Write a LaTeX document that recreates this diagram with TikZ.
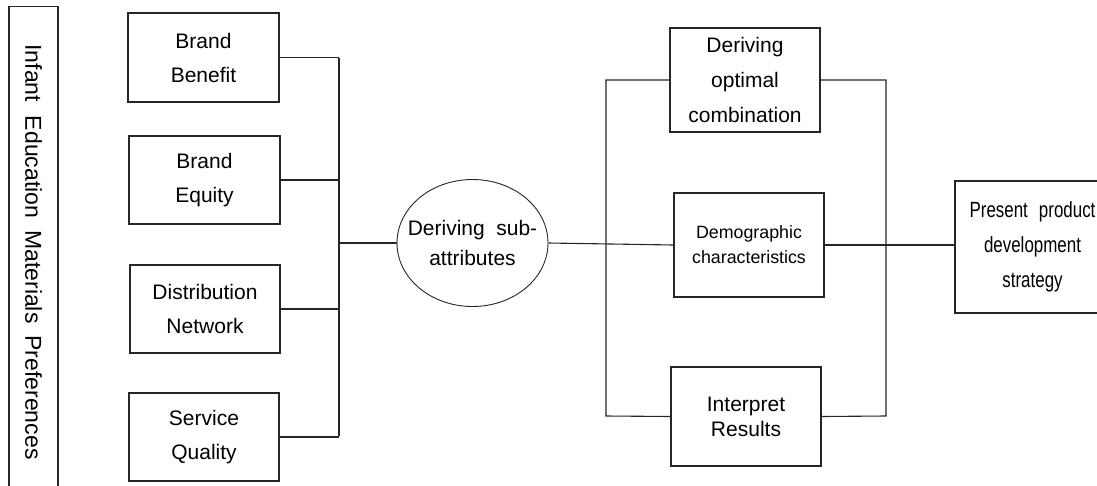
\documentclass[tikz,border=0pt]{standalone}
\usepackage{fontspec}
\setmainfont{Liberation Sans}
\newfontfamily\narrowfont[FakeStretch=0.77]{Liberation Sans}
\usetikzlibrary{shapes.geometric}
\begin{document}
\begin{tikzpicture}[x=1pt,y=-1pt,line width=1.1pt,
  box/.style={draw=black!85,rectangle,inner sep=0pt,align=center},
  big/.style={font=\fontsize{21}{34}\selectfont},
  conn/.style={draw=black!85}]
\useasboundingbox (0,0) rectangle (1097,485);
% left label
\node[box,rotate=-90,minimum width=491pt,minimum height=49pt,font=\fontsize{23}{28}\selectfont] (inf) at (33.5,252)
  {Infant\hspace{14pt}Education\hspace{12pt}Materials\hspace{12pt}Preferences};
% attribute boxes
\node[box,big,minimum width=151pt,minimum height=89pt] (bb) at (203.5,57.5) {Brand\\Benefit};
\node[box,big,minimum width=151pt,minimum height=88pt] (be) at (204.5,180) {Brand\\Equity};
\node[box,big,minimum width=150pt,minimum height=88pt] (dn) at (205,309) {Distribution\\Network};
\node[box,big,minimum width=150pt,minimum height=88pt] (sq) at (204,437) {Service\\Quality};
% ellipse
\node[draw=black!85,line width=0.9pt,ellipse,inner sep=0pt,minimum width=151pt,minimum height=127pt,align=center,
  font=\fontsize{21}{30}\selectfont] (sub) at (472.5,243)
  {\makebox[90pt]{Deriving\hspace{0.55em}sub-}\\\makebox[90pt]{attributes}};
% middle boxes
\node[box,minimum width=150pt,minimum height=104pt,font=\fontsize{21}{35}\selectfont] (doc) at (745,80) {Deriving\\optimal\\combination};
\node[box,minimum width=150pt,minimum height=104pt,font=\fontsize{17.8}{25}\selectfont] (dem) at (749,245) {Demographic\\characteristics};
\node[box,minimum width=150pt,minimum height=99pt,font=\fontsize{21}{25}\selectfont] (ir) at (746,416.5) {Interpret\\Results};
% right box
\node[box,minimum width=155pt,minimum height=132pt,font=\narrowfont\fontsize{22}{35}\selectfont] (pres) at (1032.5,247) {Present\hspace{0.5em}product\\development\\strategy};
% junctions
\coordinate (j1t) at (339,58);
\coordinate (j1b) at (339,436);
\coordinate (j1m) at (339,243);
\coordinate (j2b) at (606,416);
\coordinate (j3b) at (886,416);
% connectors
\draw[conn] (j1t) -- (j1b);
\draw[conn] (bb.east) -- (bb.east -| j1m);
\draw[conn] (be.east) -- (be.east -| j1m);
\draw[conn] (dn.east) -- (dn.east -| j1m);
\draw[conn] (sq.east) -- (sq.east -| j1m);
\draw[conn] (j1m) -- (sub.west);
\draw[conn] (sub.east) -- (dem.west);
\draw[conn] (doc.west) -| (j2b) -- (ir.west);
\draw[conn] (doc.east) -| (j3b) -- (ir.east);
\draw[conn] (dem.east) -- (dem.east -| pres.west);
\end{tikzpicture}
\end{document}
